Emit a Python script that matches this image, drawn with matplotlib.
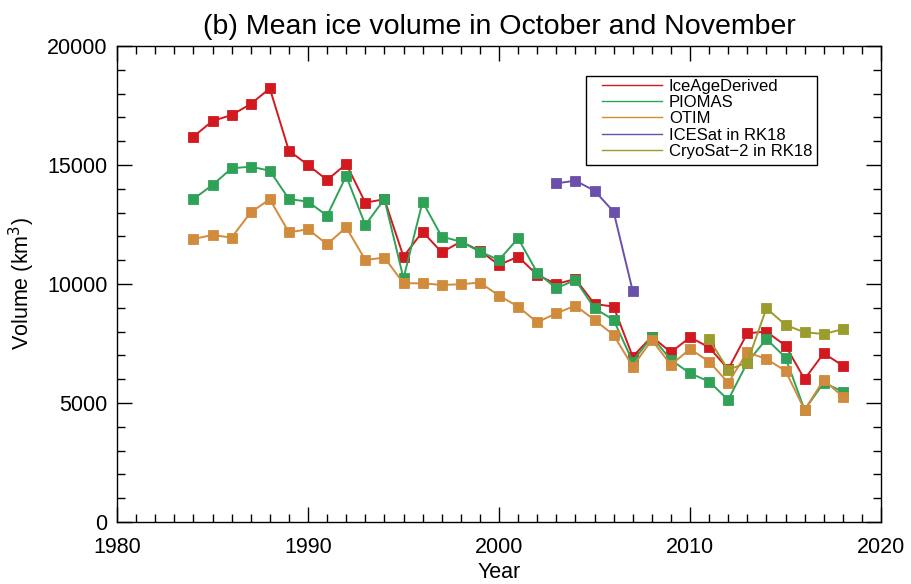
import matplotlib
matplotlib.use("Agg")
import matplotlib.pyplot as plt
from matplotlib.ticker import MultipleLocator
from matplotlib.patches import Rectangle

plt.rcParams['font.family'] = ['Liberation Sans', 'DejaVu Sans']

years_main = list(range(1984, 2019))
ice_age = [16190, 16850, 17100, 17560, 18220, 15600, 15000, 14370, 15040, 13420,
           13560, 11150, 12200, 11330, 11780, 11400, 10800, 11150, 10380, 10000,
           10210, 9160, 9050, 6950, 7790, 7130, 7760, 7340, 6420, 7930,
           8000, 7410, 6000, 7090, 6570]
piomas = [13570, 14160, 14860, 14930, 14760, 13570, 13460, 12870, 14540, 12480,
          13570, 10240, 13460, 11990, 11780, 11360, 11010, 11920, 10480, 9820,
          10170, 8980, 8490, 6740, 7790, 6810, 6250, 5900, 5130, 6700,
          7690, 6910, 4710, 5850, 5480]
otim = [11890, 12060, 11950, 13010, 13560, 12170, 12300, 11670, 12380, 11010,
        11110, 10030, 10030, 9960, 9990, 10060, 9510, 9050, 8390, 8770,
        9090, 8490, 7860, 6530, 7650, 6600, 7270, 6740, 5850, 7130,
        6850, 6350, 4710, 5970, 5270]
years_icesat = [2003, 2004, 2005, 2006, 2007]
icesat = [14230, 14340, 13920, 13040, 9710]
years_cryosat = [2011, 2012, 2013, 2014, 2015, 2016, 2017, 2018]
cryosat = [7680, 6390, 6700, 8980, 8280, 7970, 7900, 8100]

labels = ['IceAgeDerived', 'PIOMAS', 'OTIM', 'ICESat in RK18', 'CryoSat\u22122 in RK18']
colors = ['#d2191f', '#30a258', '#d08c3c', '#6a50ab', '#9b9c2e']

W, H = 911, 584
fig = plt.figure(figsize=(W / 100, H / 100), dpi=100)
ax = fig.add_axes([117 / W, 1 - 522 / H, (881 - 117) / W, (522 - 46) / H])

series = [(years_main, ice_age), (years_main, piomas), (years_main, otim),
          (years_icesat, icesat), (years_cryosat, cryosat)]
for (x, y), c in zip(series, colors):
    ax.plot(x, y, color=c, lw=1.4, marker='s', ms=6.5, mec=c, mew=0.6, zorder=3)

# legend (lines only) with a square IDL-style frame
handles = [plt.Line2D([], [], color=c, lw=1.0) for c in colors]
leg = fig.legend(handles, labels, loc='upper left',
                 bbox_to_anchor=(602 / W, 1 - 79 / H), bbox_transform=fig.transFigure,
                 frameon=False, fontsize=12,
                 handlelength=3.6, handletextpad=0.42, labelspacing=0.07,
                 borderpad=0, borderaxespad=0)
fig.add_artist(Rectangle((586 / W, 1 - 165 / H), (817 - 586) / W, (165 - 76) / H,
                         transform=fig.transFigure, fill=False, ec='black', lw=1.0))

ax.set_xlim(1980, 2020)
ax.set_ylim(0, 20000)
ax.xaxis.set_major_locator(MultipleLocator(10))
ax.xaxis.set_minor_locator(MultipleLocator(1))
ax.yaxis.set_major_locator(MultipleLocator(5000))
ax.yaxis.set_minor_locator(MultipleLocator(1000))
ax.tick_params(which='both', direction='in', top=True, right=True, labelsize=15.5, width=1.0)
ax.tick_params(which='major', length=11)
ax.tick_params(which='minor', length=5.5)
ax.tick_params(axis='x', pad=10.5)
ax.tick_params(axis='y', pad=7)
for s in ax.spines.values():
    s.set_linewidth(1.0)

ax.set_xlabel('Year', fontsize=15.5, labelpad=3)
ax.set_ylabel('Volume (km$^3$)', fontsize=15.5, labelpad=7)
ax.set_title('(b) Mean ice volume in October and November', fontsize=20.5, pad=9)

fig.savefig('out.png', dpi=100)
